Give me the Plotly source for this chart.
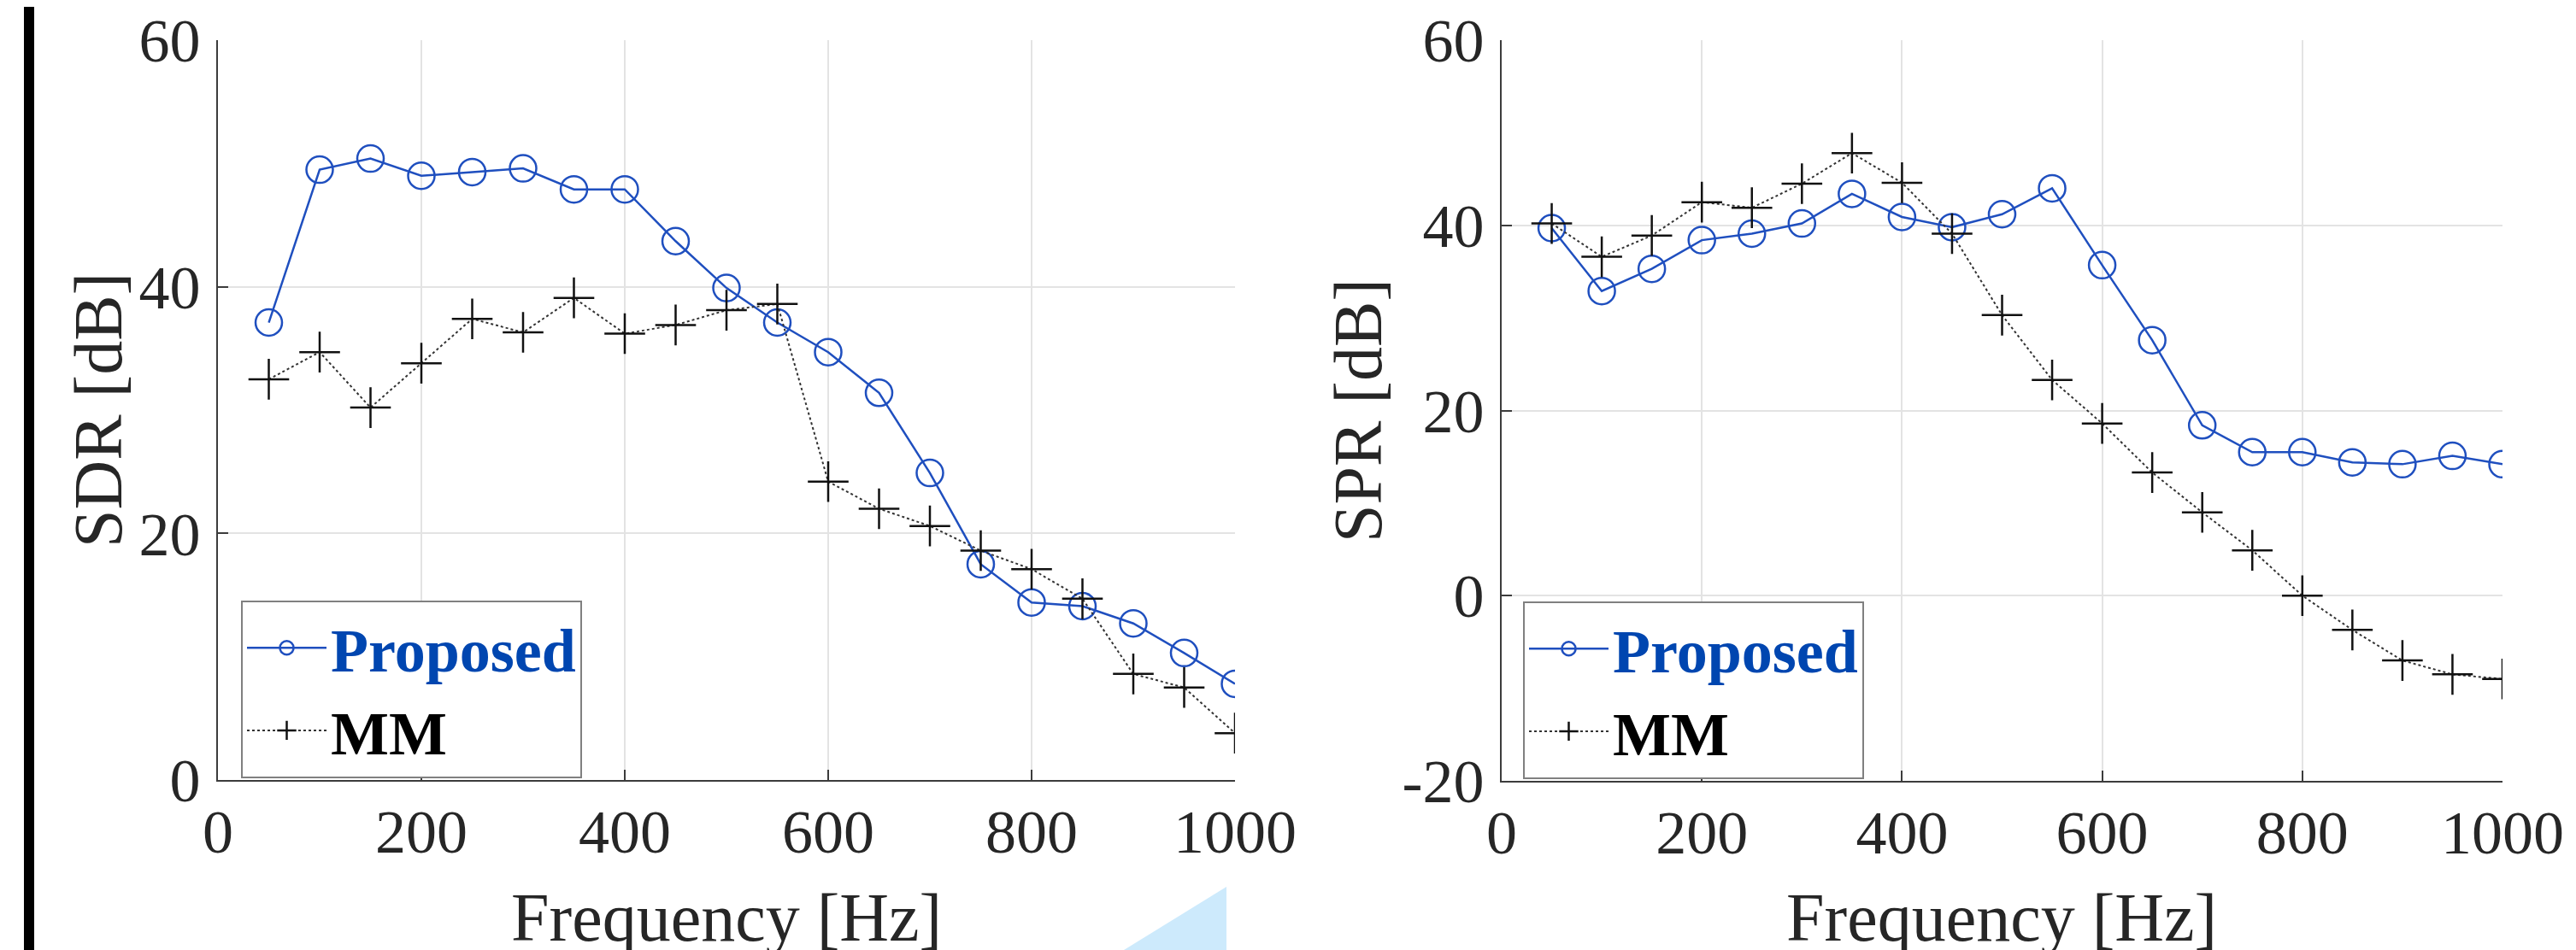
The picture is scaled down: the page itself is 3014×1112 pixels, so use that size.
import plotly.graph_objects as go

# ---------------- data ----------------
freq = [50, 100, 150, 200, 250, 300, 350, 400, 450, 500,
        550, 600, 650, 700, 750, 800, 850, 900, 950, 1000]

sdr_proposed = [37.1, 49.5, 50.4, 49.0, 49.3, 49.6, 47.9, 47.9, 43.7, 39.9,
                37.1, 34.7, 31.4, 24.9, 17.5, 14.4, 14.1, 12.7, 10.3, 7.8]
sdr_mm = [32.5, 34.7, 30.2, 33.8, 37.4, 36.3, 39.1, 36.2, 36.9, 38.1,
          38.6, 24.2, 22.0, 20.6, 18.6, 17.1, 14.7, 8.6, 7.5, 3.8]

spr_proposed = [39.7, 32.9, 35.3, 38.4, 39.1, 40.2, 43.4, 40.9, 39.8, 41.2,
                44.0, 35.7, 27.6, 18.4, 15.5, 15.5, 14.4, 14.2, 15.1, 14.2]
spr_mm = [40.2, 36.6, 38.9, 42.5, 41.9, 44.5, 47.8, 44.6, 39.1, 30.3,
          23.3, 18.6, 13.3, 9.0, 4.9, 0.0, -3.7, -7.0, -8.5, -9.0]

x_ticks = [0, 200, 400, 600, 800, 1000]
sdr_ticks = [0, 20, 40, 60]
spr_ticks = [-20, 0, 20, 40, 60]

series_names = ["Proposed", "MM"]
x_title = "Frequency [Hz]"
y_titles = ["SDR [dB]", "SPR [dB]"]

# ---------------- style ----------------
W, H = 3014, 1112
OFF = 8  # page body margin offset compensation
BLUE_LINE = "#1f4fbf"
BLUE_TEXT = "#0046b0"
BLACK = "#111111"
AX = "#3c3c3c"
GRID = "#e3e3e3"
TXT = "#262626"
FONT = "Liberation Serif"

fig = go.Figure()

panels = [
    dict(xa="x", ya="y", leg="legend", prop=sdr_proposed, mm=sdr_mm),
    dict(xa="x2", ya="y2", leg="legend2", prop=spr_proposed, mm=spr_mm),
]
for p in panels:
    fig.add_trace(go.Scatter(
        x=freq, y=p["prop"], mode="lines+markers",
        name=f"<span style='color:{BLUE_TEXT}'>{series_names[0]}</span>",
        line=dict(color=BLUE_LINE, width=2.5),
        marker=dict(symbol="circle-open", size=31, color=BLUE_LINE,
                    line=dict(width=2.5, color=BLUE_LINE)),
        xaxis=p["xa"], yaxis=p["ya"], legend=p["leg"]))
    fig.add_trace(go.Scatter(
        x=freq, y=p["mm"], mode="lines+markers",
        name=series_names[1],
        line=dict(color="#333333", width=2, dash="dot"),
        marker=dict(symbol="cross-thin-open", size=34, color=BLACK,
                    line=dict(width=2.5, color=BLACK)),
        xaxis=p["xa"], yaxis=p["ya"], legend=p["leg"]))

def px_x(v):
    return (v - OFF) / W

def px_y(v):
    return 1 - (v - OFF) / H

common_x = dict(range=[0, 1000], tickvals=x_ticks, ticktext=[str(v) for v in x_ticks],
                showgrid=True, gridcolor=GRID,
                gridwidth=2, showline=True, linecolor=AX, linewidth=2,
                ticks="inside", ticklen=12, tickwidth=2, tickcolor=AX,
                zeroline=False, tickfont=dict(family=FONT, size=72, color=TXT),
                ticklabelstandoff=-3, automargin=False)
common_y = dict(showgrid=True, gridcolor=GRID, gridwidth=2, showline=True,
                linecolor=AX, linewidth=2, ticks="inside", ticklen=12,
                tickwidth=2, tickcolor=AX, zeroline=False,
                tickfont=dict(family=FONT, size=72, color=TXT),
                ticklabelstandoff=4, automargin=False)

fig.update_layout(
    width=W, height=H,
    margin=dict(l=0, r=0, t=0, b=0, autoexpand=False),
    paper_bgcolor="white", plot_bgcolor="white",
    xaxis=dict(domain=[px_x(255), px_x(1445)], anchor="y", **common_x),
    yaxis=dict(domain=[px_y(913), px_y(47)], anchor="x", range=[0, 60],
               tickvals=sdr_ticks, ticktext=[str(v) for v in sdr_ticks], **common_y),
    xaxis2=dict(domain=[px_x(1757), px_x(2928)], anchor="y2", **common_x),
    yaxis2=dict(domain=[px_y(914), px_y(47)], anchor="x2", range=[-20, 60],
                tickvals=spr_ticks, ticktext=[str(v) for v in spr_ticks], **common_y),
    showlegend=True,
)

leg_common = dict(xanchor="left", yanchor="top", bgcolor="white",
                  bordercolor="#808080", borderwidth=2,
                  font=dict(family=FONT, size=72, color="black", weight="bold"),
                  itemwidth=93, tracegroupgap=0)
fig.update_layout(
    legend=dict(x=px_x(282), y=px_y(703), **leg_common),
    legend2=dict(x=px_x(1782), y=px_y(704), **leg_common),
)

# axis titles
ann_font = dict(family=FONT, size=80, color=TXT)
for cx in [850, 2342]:
    fig.add_annotation(text=x_title, xref="paper", yref="paper",
                       x=px_x(cx), y=px_y(1074), xanchor="center", yanchor="middle",
                       showarrow=False, font=ann_font)
for cx, t in zip([115, 1589], y_titles):
    fig.add_annotation(text=t, xref="paper", yref="paper", textangle=-90,
                       x=px_x(cx), y=px_y(480), xanchor="center", yanchor="middle",
                       showarrow=False, font=ann_font)

# decorative page elements from the source image
fig.add_shape(type="rect", xref="paper", yref="paper",
              x0=px_x(28), x1=px_x(40), y0=0, y1=1,
              fillcolor="black", line=dict(width=0), layer="above")
fig.add_shape(type="path", xref="paper", yref="paper",
              path=f"M {px_x(1315)} {px_y(1112)} L {px_x(1435)} {px_y(1038)} L {px_x(1435)} {px_y(1112)} Z",
              fillcolor="#cdeafc", line=dict(width=0), layer="below")

fig.write_html("out.html")
